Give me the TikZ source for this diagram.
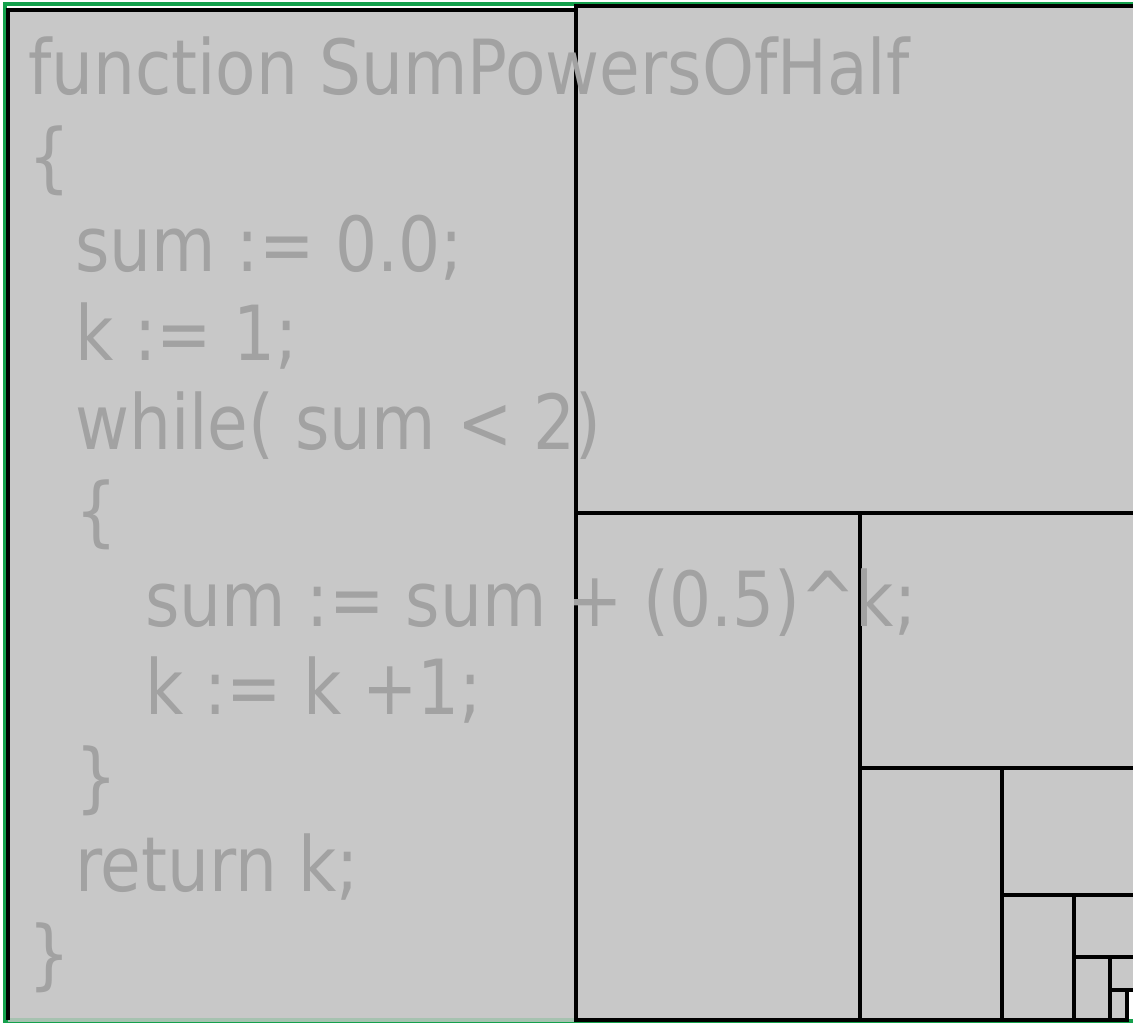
\documentclass[tikz,border=0pt]{standalone}
\usepackage{fontspec}
\newfontfamily\codefont[FakeStretch=0.87]{DejaVu Sans}
\definecolor{cellfill}{HTML}{C8C8C8}
\definecolor{codegrey}{HTML}{A2A2A2}
\definecolor{framegreen}{HTML}{14A04C}
\definecolor{palegreen}{HTML}{A6C2B0}
\begin{document}
\begin{tikzpicture}[x=1pt,y=-1pt,
  cell/.style={draw=black,line width=4pt,fill=cellfill},
  code/.style={anchor=base west,inner sep=0pt,text=codegrey,font=\codefont\fontsize{76}{80}\selectfont}]
\useasboundingbox (0,0) rectangle (1133,1024);
\fill[white] (0,0) rectangle (1133,1024);
% outer green frame
\draw[framegreen,line width=3.5pt] (1140,4) -- (5,4) -- (5,1021) -- (1140,1021);
% grey background of the left cell
\fill[cellfill] (7.5,10) rectangle (576,1020);
\draw[palegreen,line width=3.5pt] (7.5,1020) -- (576,1020);
\draw[black,line width=4pt] (7.5,1020) -- (7.5,10) -- (576,10);
% subdivided cells on the right
\draw[cell] (576,6) rectangle (1145,513);
\draw[cell] (576,513) rectangle (860,1020);
\draw[cell] (860,513) rectangle (1145,768);
\draw[cell] (860,768) rectangle (1002,1020);
\draw[cell] (1002,768) rectangle (1145,895);
\draw[cell] (1002,895) rectangle (1074,1020);
\draw[cell] (1074,895) rectangle (1145,957);
\draw[cell] (1074,957) rectangle (1110,1020);
\draw[cell] (1110,957) rectangle (1145,990);
\draw[cell] (1110,990) rectangle (1127,1020);
% code text
\node[code] (l1) at (28,95) {function SumPowersOfHalf};
\node[code] (l2) at (28,183.5) {\{};
\node[code] (l3) at (75,272) {sum := 0.0;};
\node[code] (l4) at (75,360.5) {k := 1;};
\node[code] (l5) at (75,449) {while( sum < 2)};
\node[code] (l6) at (75,537.5) {\{};
\node[code] (l7) at (145,626) {sum := sum + (0.5)\^{}k;};
\node[code] (l8) at (145,714.5) {k := k +1;};
\node[code] (l9) at (75,803) {\}};
\node[code] (l10) at (75,891.5) {return k;};
\node[code] (l11) at (28,980) {\}};
\end{tikzpicture}
\end{document}
